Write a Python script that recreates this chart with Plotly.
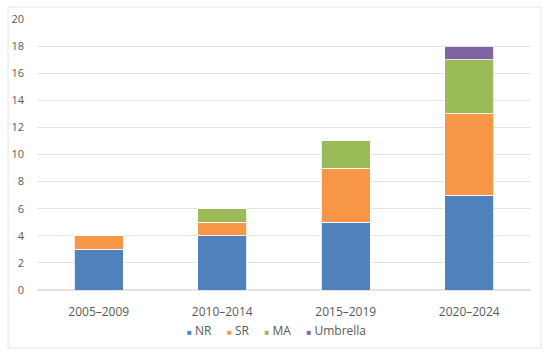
import plotly.graph_objects as go

categories = ["2005–2009", "2010–2014", "2015–2019", "2020–2024"]
nr = [3, 4, 5, 7]
sr = [1, 1, 4, 6]
ma = [0, 1, 2, 4]
umbrella = [0, 0, 0, 1]
y_ticks = [0, 2, 4, 6, 8, 10, 12, 14, 16, 18, 20]

series = [
    ("NR", nr, "#4F81BD"),
    ("SR", sr, "#F79646"),
    ("MA", ma, "#9BBB59"),
    ("Umbrella", umbrella, "#8064A2"),
]

fig = go.Figure()
for name, vals, color in series:
    fig.add_trace(go.Bar(
        x=categories, y=vals, name=name, showlegend=False,
        marker=dict(color=color, line=dict(color="rgba(255,255,255,0.8)", width=1)),
    ))

L, R, T, B = 37, 19, 19, 68
W, H = 550, 358
pw = W - L - R
ph = H - T - B

legend_text = "&nbsp;&nbsp;&nbsp;&nbsp;&nbsp;".join(
    f"<span style='color:{c}; font-size:8px'>■</span> {n}" for n, _, c in series
)

fig.update_layout(
    width=W, height=H,
    barmode="stack", bargap=0.606,
    margin=dict(l=L, r=R, t=T, b=B, autoexpand=False),
    paper_bgcolor="white", plot_bgcolor="white",
    font=dict(family="Open Sans, Liberation Sans, sans-serif", color="#595959", size=11),
    showlegend=False,
    xaxis=dict(showgrid=False, showline=False, ticks="", automargin=False,
               ticklabelstandoff=13, tickfont=dict(size=12, color="#595959")),
    yaxis=dict(range=[0, 20], tickvals=y_ticks, showgrid=True, gridcolor="#E3E3E3", gridwidth=1,
               zeroline=True, zerolinecolor="#E3E3E3", showline=False, ticks="", automargin=False,
               ticklabelstandoff=12, tickfont=dict(size=11, color="#595959")),
    annotations=[dict(xref="paper", yref="paper", x=(276 - L) / pw, y=-(330 - (H - B)) / ph,
                      xanchor="center", yanchor="middle", showarrow=False, text=legend_text,
                      font=dict(size=12, color="#595959"))],
    shapes=[dict(type="rect", xref="paper", yref="paper",
                 x0=(8 - L) / pw, x1=(541 - L) / pw,
                 y0=-(348 - (H - B)) / ph, y1=1 + (T - 7) / ph,
                 line=dict(color="#E6E6E6", width=1), fillcolor="rgba(0,0,0,0)", layer="above")],
)

fig.write_html(
    "out.html",
    config={"displayModeBar": False},
    post_script="document.body.style.margin='0';document.body.style.overflow='hidden';",
)
